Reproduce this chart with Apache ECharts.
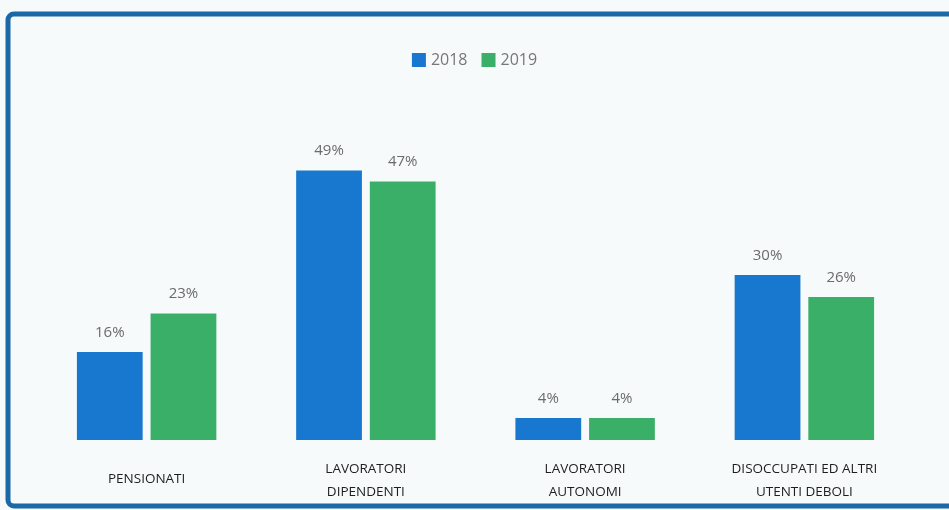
<!DOCTYPE html>
<html><head><meta charset="utf-8">
<script src="https://cdn.jsdelivr.net/npm/echarts@6/dist/echarts.min.js"></script>
<style>html,body{margin:0;padding:0;background:#f6fafb;}#c{width:949px;height:510px;}</style>
</head><body><div id="c"></div>
<script>
const categories = ['PENSIONATI', 'LAVORATORI\nDIPENDENTI', 'LAVORATORI\nAUTONOMI', 'DISOCCUPATI ED ALTRI\nUTENTI DEBOLI'];
const years = ['2018', '2019'];
const values2018 = [16, 49, 4, 30];
const values2019 = [23, 47, 4, 26];

const chart = echarts.init(document.getElementById('c'));
const lbl = {show: true, position: 'top', distance: 12, formatter: '{c}%', color: '#6b6b6b', fontSize: 15, fontFamily: 'Open Sans'};
const catData = categories.map(c => c.indexOf('\n') < 0 ? {value: c, textStyle: {padding: [10, 0, 0, 0]}} : c);
chart.setOption({
  backgroundColor: '#f6fafb',
  graphic: [{type: 'rect', shape: {x: 8, y: 14, width: 960, height: 492, r: 6}, style: {fill: 'none', stroke: '#1b68a6', lineWidth: 5}, silent: true}],
  legend: {data: years, top: 47, left: 'center', itemWidth: 14, itemHeight: 14, itemGap: 14, icon: 'rect',
    textStyle: {color: '#777', fontSize: 16, fontFamily: 'Open Sans'}},
  grid: {left: 37, right: 35, top: 110, bottom: 70},
  xAxis: {type: 'category', data: catData, axisLine: {show: false}, axisTick: {show: false},
    axisLabel: {color: '#1e1e1e', fontSize: 13.5, fontFamily: 'Open Sans', margin: 18, lineHeight: 23}},
  yAxis: {type: 'value', min: 0, max: 60, show: false, splitLine: {show: false}},
  series: [
    {name: '2018', type: 'bar', data: values2018, barWidth: '30%', barGap: '12%', itemStyle: {color: '#1878cf'}, label: lbl},
    {name: '2019', type: 'bar', data: values2019, barWidth: '30%', itemStyle: {color: '#3aaf68'}, label: lbl}
  ]
});
</script></body></html>
